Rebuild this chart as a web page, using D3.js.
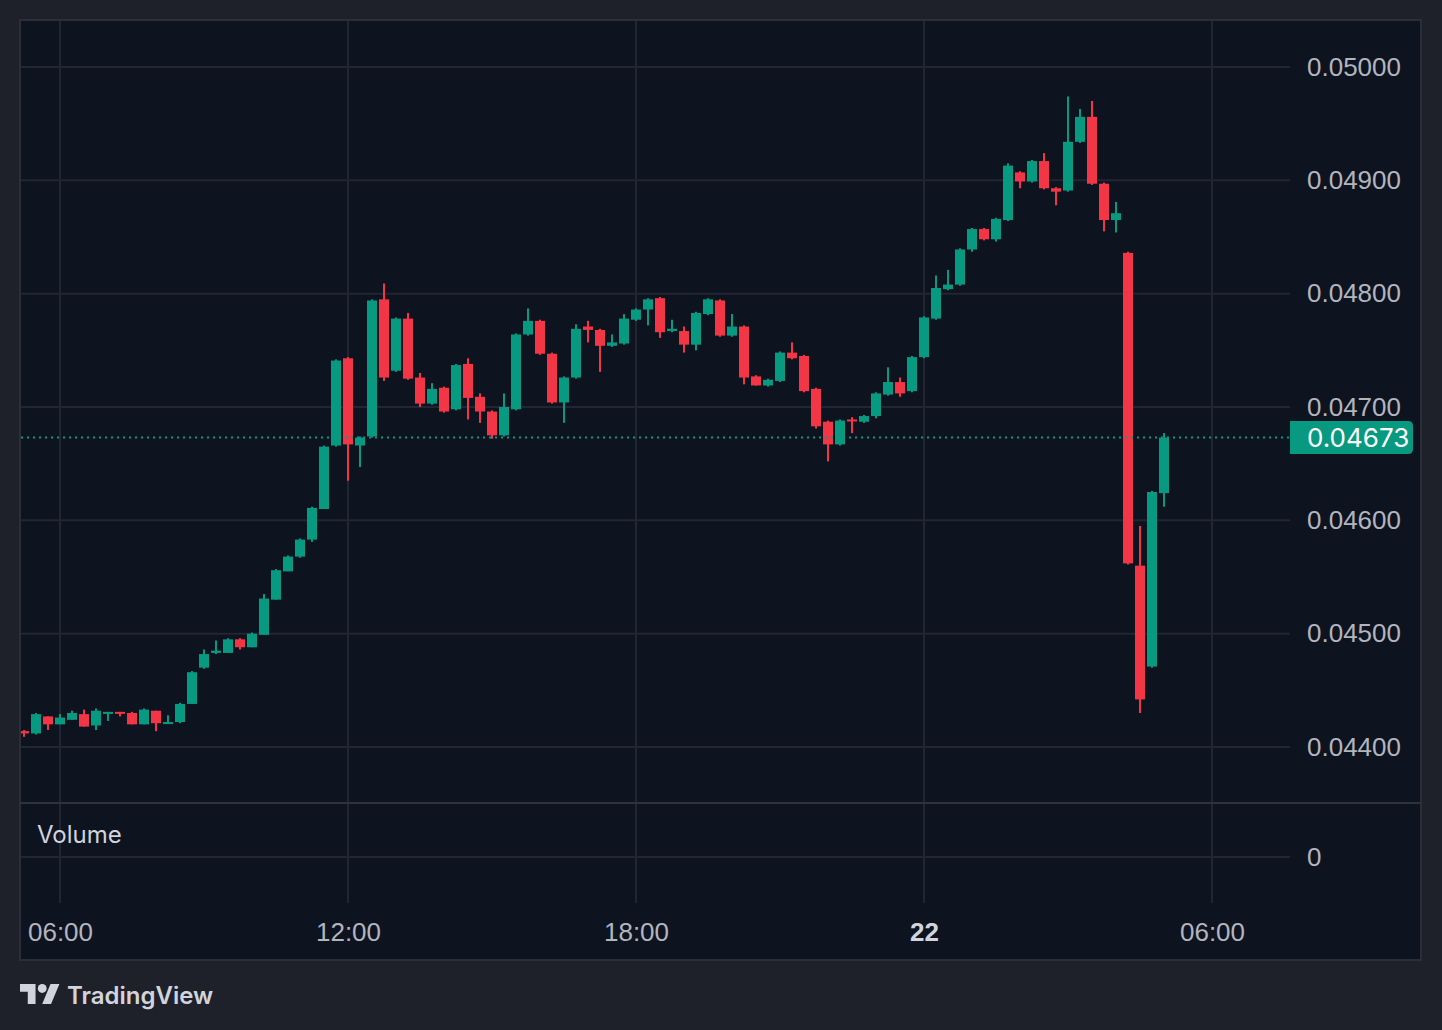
<!DOCTYPE html>
<html>
<head>
<meta charset="utf-8">
<script src="https://cdn.jsdelivr.net/npm/d3@7"></script>
<style>
  html, body { margin: 0; padding: 0; background: #1e212a; }
  svg { display: block; font-family: "Inter", "Roboto", sans-serif; }
  .axisText text { fill: #b2b5be; font-size: 26px; }
</style>
</head>
<body>
<div id="chart"></div>
<script>
// 15 minute candles, first one at 05:15 on the 21st
var startTime = Date.UTC(2024, 0, 21, 5, 15);
var stepMinutes = 15;

var opens  = [0.04414, 0.04412, 0.04427, 0.04420, 0.04424, 0.04429, 0.04419, 0.04430, 0.04431, 0.04430,
              0.04420, 0.04432, 0.04421, 0.04422, 0.04438, 0.04470, 0.04483, 0.04483, 0.04495, 0.04488,
              0.04499, 0.04530, 0.04555, 0.04568, 0.04583, 0.04610, 0.04666, 0.04743, 0.04666, 0.04674,
              0.04795, 0.04732, 0.04778, 0.04726, 0.04703, 0.04717, 0.04698, 0.04738, 0.04709, 0.04696,
              0.04675, 0.04698, 0.04764, 0.04776, 0.04747, 0.04704, 0.04726, 0.04771, 0.04768, 0.04754,
              0.04756, 0.04777, 0.04786, 0.04796, 0.04767, 0.04767, 0.04755, 0.04782, 0.04794, 0.04763,
              0.04771, 0.04727, 0.04719, 0.04723, 0.04748, 0.04745, 0.04716, 0.04687, 0.04667, 0.04689,
              0.04687, 0.04692, 0.04711, 0.04722, 0.04714, 0.04744, 0.04778, 0.04804, 0.04808, 0.04839,
              0.04857, 0.04848, 0.04865, 0.04907, 0.04899, 0.04917, 0.04893, 0.04891, 0.04934, 0.04956,
              0.04897, 0.04865, 0.04836, 0.04560, 0.04471, 0.04624];
var highs  = [0.04415, 0.04430, 0.04427, 0.04429, 0.04432, 0.04433, 0.04434, 0.04431, 0.04431, 0.04431,
              0.04434, 0.04432, 0.04428, 0.04439, 0.04467, 0.04486, 0.04494, 0.04496, 0.04496, 0.04501,
              0.04535, 0.04557, 0.04569, 0.04584, 0.04612, 0.04666, 0.04742, 0.04744, 0.04674, 0.04795,
              0.04809, 0.04779, 0.04783, 0.04730, 0.04721, 0.04718, 0.04738, 0.04743, 0.04712, 0.04697,
              0.04712, 0.04765, 0.04787, 0.04777, 0.04748, 0.04727, 0.04773, 0.04776, 0.04769, 0.04764,
              0.04782, 0.04787, 0.04796, 0.04797, 0.04777, 0.04771, 0.04784, 0.04796, 0.04795, 0.04782,
              0.04772, 0.04728, 0.04725, 0.04749, 0.04757, 0.04746, 0.04717, 0.04688, 0.04689, 0.04691,
              0.04693, 0.04713, 0.04735, 0.04726, 0.04745, 0.04780, 0.04816, 0.04821, 0.04840, 0.04858,
              0.04858, 0.04867, 0.04915, 0.04908, 0.04918, 0.04924, 0.04894, 0.04974, 0.04963, 0.04970,
              0.04898, 0.04881, 0.04837, 0.04595, 0.04626, 0.04677];
var lows   = [0.04409, 0.04411, 0.04415, 0.04420, 0.04424, 0.04418, 0.04415, 0.04423, 0.04427, 0.04420,
              0.04420, 0.04414, 0.04421, 0.04421, 0.04438, 0.04469, 0.04482, 0.04483, 0.04486, 0.04488,
              0.04499, 0.04530, 0.04555, 0.04567, 0.04581, 0.04610, 0.04665, 0.04635, 0.04647, 0.04673,
              0.04723, 0.04731, 0.04724, 0.04700, 0.04702, 0.04695, 0.04697, 0.04689, 0.04686, 0.04672,
              0.04674, 0.04697, 0.04763, 0.04746, 0.04703, 0.04686, 0.04725, 0.04757, 0.04731, 0.04753,
              0.04755, 0.04776, 0.04772, 0.04761, 0.04766, 0.04748, 0.04750, 0.04781, 0.04762, 0.04762,
              0.04720, 0.04719, 0.04718, 0.04722, 0.04742, 0.04713, 0.04681, 0.04652, 0.04666, 0.04677,
              0.04686, 0.04690, 0.04710, 0.04709, 0.04713, 0.04743, 0.04777, 0.04803, 0.04807, 0.04837,
              0.04847, 0.04846, 0.04864, 0.04893, 0.04898, 0.04892, 0.04878, 0.04890, 0.04933, 0.04896,
              0.04855, 0.04854, 0.04561, 0.04430, 0.04470, 0.04612];
var closes = [0.04412, 0.04429, 0.04420, 0.04426, 0.04430, 0.04418, 0.04432, 0.04431, 0.04430, 0.04420,
              0.04433, 0.04421, 0.04422, 0.04438, 0.04466, 0.04482, 0.04485, 0.04495, 0.04488, 0.04500,
              0.04531, 0.04556, 0.04568, 0.04583, 0.04611, 0.04665, 0.04741, 0.04667, 0.04673, 0.04794,
              0.04726, 0.04778, 0.04725, 0.04703, 0.04716, 0.04696, 0.04737, 0.04708, 0.04696, 0.04675,
              0.04700, 0.04764, 0.04776, 0.04747, 0.04704, 0.04726, 0.04769, 0.04768, 0.04754, 0.04757,
              0.04778, 0.04786, 0.04795, 0.04766, 0.04769, 0.04755, 0.04783, 0.04795, 0.04763, 0.04771,
              0.04726, 0.04719, 0.04724, 0.04748, 0.04743, 0.04714, 0.04683, 0.04667, 0.04688, 0.04688,
              0.04692, 0.04712, 0.04722, 0.04712, 0.04744, 0.04779, 0.04805, 0.04808, 0.04839, 0.04857,
              0.04848, 0.04866, 0.04913, 0.04899, 0.04917, 0.04893, 0.04890, 0.04934, 0.04956, 0.04897,
              0.04865, 0.04871, 0.04562, 0.04442, 0.04625, 0.04673];

var lastPrice = 0.04673;
var priceTicks = [0.044, 0.045, 0.046, 0.047, 0.048, 0.049, 0.050];
var volumeTicks = [0];

//////////////////////////////////////////////////////////////////////////////

var up = "#089981", down = "#f23645";
var gridColor = "#222632";

var W = 1442, H = 1030;
var pane = { left: 20, right: 1421, top: 20, bottom: 960 };
var plotRight = 1290;
var priceBottom = 803, volBottom = 903;

var candles = opens.map(function(o, i) {
  return { t: new Date(startTime + i * stepMinutes * 60000), o: o, h: highs[i], l: lows[i], c: closes[i] };
});

var svg = d3.select("#chart").append("svg").attr("width", W).attr("height", H);

svg.append("rect").attr("width", W).attr("height", H).attr("fill", "#1e212a");
svg.append("rect")
    .attr("x", pane.left).attr("y", pane.top)
    .attr("width", pane.right - pane.left).attr("height", pane.bottom - pane.top)
    .attr("fill", "#0e1320")
    .attr("stroke", "#2a2e39").attr("stroke-width", 2);

var x = d3.scaleUtc()
    .domain([new Date(Date.UTC(2024, 0, 21, 6)), new Date(Date.UTC(2024, 0, 22, 6))])
    .range([60, 1212]);

var y = d3.scaleLinear().domain([0.044, 0.050]).range([747, 67]);
var yVol = d3.scaleLinear().domain([0, 1]).range([857, 812]);

var step = x(new Date(startTime + stepMinutes * 60000)) - x(new Date(startTime));
var bodyW = Math.round(step * 0.86);

var timeTicks = x.ticks(d3.utcHour.every(6));

// grid
var grid = svg.append("g").attr("class", "grid");
grid.selectAll("line.v")
    .data(timeTicks)
    .enter().append("line")
    .attr("x1", function(d){ return x(d); }).attr("x2", function(d){ return x(d); })
    .attr("y1", pane.top + 1).attr("y2", volBottom)
    .attr("stroke", gridColor).attr("stroke-width", 2);

grid.selectAll("line.h")
    .data(priceTicks)
    .enter().append("line")
    .attr("x1", pane.left + 1).attr("x2", plotRight)
    .attr("y1", function(d){ return y(d); }).attr("y2", function(d){ return y(d); })
    .attr("stroke", gridColor).attr("stroke-width", 2);

grid.selectAll("line.vol")
    .data(volumeTicks)
    .enter().append("line")
    .attr("x1", pane.left + 1).attr("x2", plotRight)
    .attr("y1", function(d){ return yVol(d); }).attr("y2", function(d){ return yVol(d); })
    .attr("stroke", gridColor).attr("stroke-width", 2);

// pane separator
svg.append("line")
    .attr("x1", pane.left).attr("x2", pane.right)
    .attr("y1", priceBottom).attr("y2", priceBottom)
    .attr("stroke", "#2e323d").attr("stroke-width", 2);

// candles
svg.append("clipPath").attr("id", "plotClip")
  .append("rect")
    .attr("x", pane.left + 1).attr("y", pane.top + 1)
    .attr("width", plotRight - pane.left - 1).attr("height", priceBottom - pane.top - 2);

var candleG = svg.append("g").attr("clip-path", "url(#plotClip)");

var cg = candleG.selectAll("g.candle")
    .data(candles)
    .enter().append("g")
    .attr("class", "candle");

cg.append("rect")
    .attr("x", function(d){ return x(d.t) - 1; })
    .attr("width", 2)
    .attr("y", function(d){ return y(d.h); })
    .attr("height", function(d){ return Math.max(1, y(d.l) - y(d.h)); })
    .attr("fill", function(d){ return d.c >= d.o ? up : down; });

cg.append("rect")
    .attr("x", function(d){ return x(d.t) - bodyW / 2; })
    .attr("width", bodyW)
    .attr("y", function(d){ return y(Math.max(d.o, d.c)); })
    .attr("height", function(d){ return Math.max(2, Math.abs(y(d.o) - y(d.c))); })
    .attr("fill", function(d){ return d.c >= d.o ? up : down; });

// last price line
svg.append("line")
    .attr("x1", pane.left + 1).attr("x2", plotRight)
    .attr("y1", y(lastPrice)).attr("y2", y(lastPrice))
    .attr("stroke", up).attr("stroke-width", 2)
    .attr("stroke-dasharray", "2,4");

// price axis
var yAxis = d3.axisRight(y).tickValues(priceTicks).tickFormat(d3.format(".5f")).tickSize(0).tickPadding(0);
svg.append("g")
    .attr("class", "axisText")
    .attr("transform", "translate(1307,0)")
    .call(yAxis)
    .call(function(g){ g.select(".domain").remove(); });

var volAxis = d3.axisRight(yVol).tickValues(volumeTicks).tickFormat(d3.format("d")).tickSize(0).tickPadding(0);
svg.append("g")
    .attr("class", "axisText")
    .attr("transform", "translate(1307,0)")
    .call(volAxis)
    .call(function(g){ g.select(".domain").remove(); });

// last price badge
var ly = y(lastPrice), bx = 1290, bw = 123, bh = 33, r = 5;
svg.append("path")
    .attr("d", "M" + bx + "," + (ly - bh / 2) +
               "H" + (bx + bw - r) + "Q" + (bx + bw) + "," + (ly - bh / 2) + " " + (bx + bw) + "," + (ly - bh / 2 + r) +
               "V" + (ly + bh / 2 - r) + "Q" + (bx + bw) + "," + (ly + bh / 2) + " " + (bx + bw - r) + "," + (ly + bh / 2) +
               "H" + bx + "Z")
    .attr("fill", up);
svg.append("text")
    .attr("x", 1307).attr("y", ly)
    .attr("dy", "0.35em")
    .attr("fill", "#ffffff")
    .style("font-size", "26px")
    .text(d3.format(".5f")(lastPrice));

// time axis
var xAxis = d3.axisBottom(x)
    .tickValues(timeTicks)
    .tickSize(0).tickPadding(0)
    .tickFormat(function(d){ return d.getUTCHours() === 0 ? d3.utcFormat("%-d")(d) : d3.utcFormat("%H:%M")(d); });

svg.append("g")
    .attr("class", "axisText")
    .attr("transform", "translate(0,923)")
    .call(xAxis)
    .call(function(g){
      g.select(".domain").remove();
      g.selectAll(".tick text")
        .filter(function(d){ return d.getUTCHours() === 0; })
        .style("font-weight", "700")
        .style("fill", "#d1d4dc");
    });

// volume label
svg.append("text")
    .attr("x", 37).attr("y", 835).attr("dy", "0.35em")
    .attr("fill", "#d1d4dc")
    .style("font-size", "24px")
    .text("Volume");

// TradingView mark
var logo = svg.append("g").attr("transform", "translate(20,979.6) scale(1.11)").attr("fill", "#d1d4dc");
logo.append("path").attr("d", "M14 22H7V11H0V4h14v18zM28 22h-8l7.5-18h8L28 22z");
logo.append("circle").attr("cx", 20).attr("cy", 8).attr("r", 4);

svg.append("text")
    .attr("x", 67).attr("y", 1004)
    .attr("fill", "#d1d4dc")
    .style("font-size", "24px")
    .style("font-weight", "600")
    .text("TradingView");
</script>
</body>
</html>
